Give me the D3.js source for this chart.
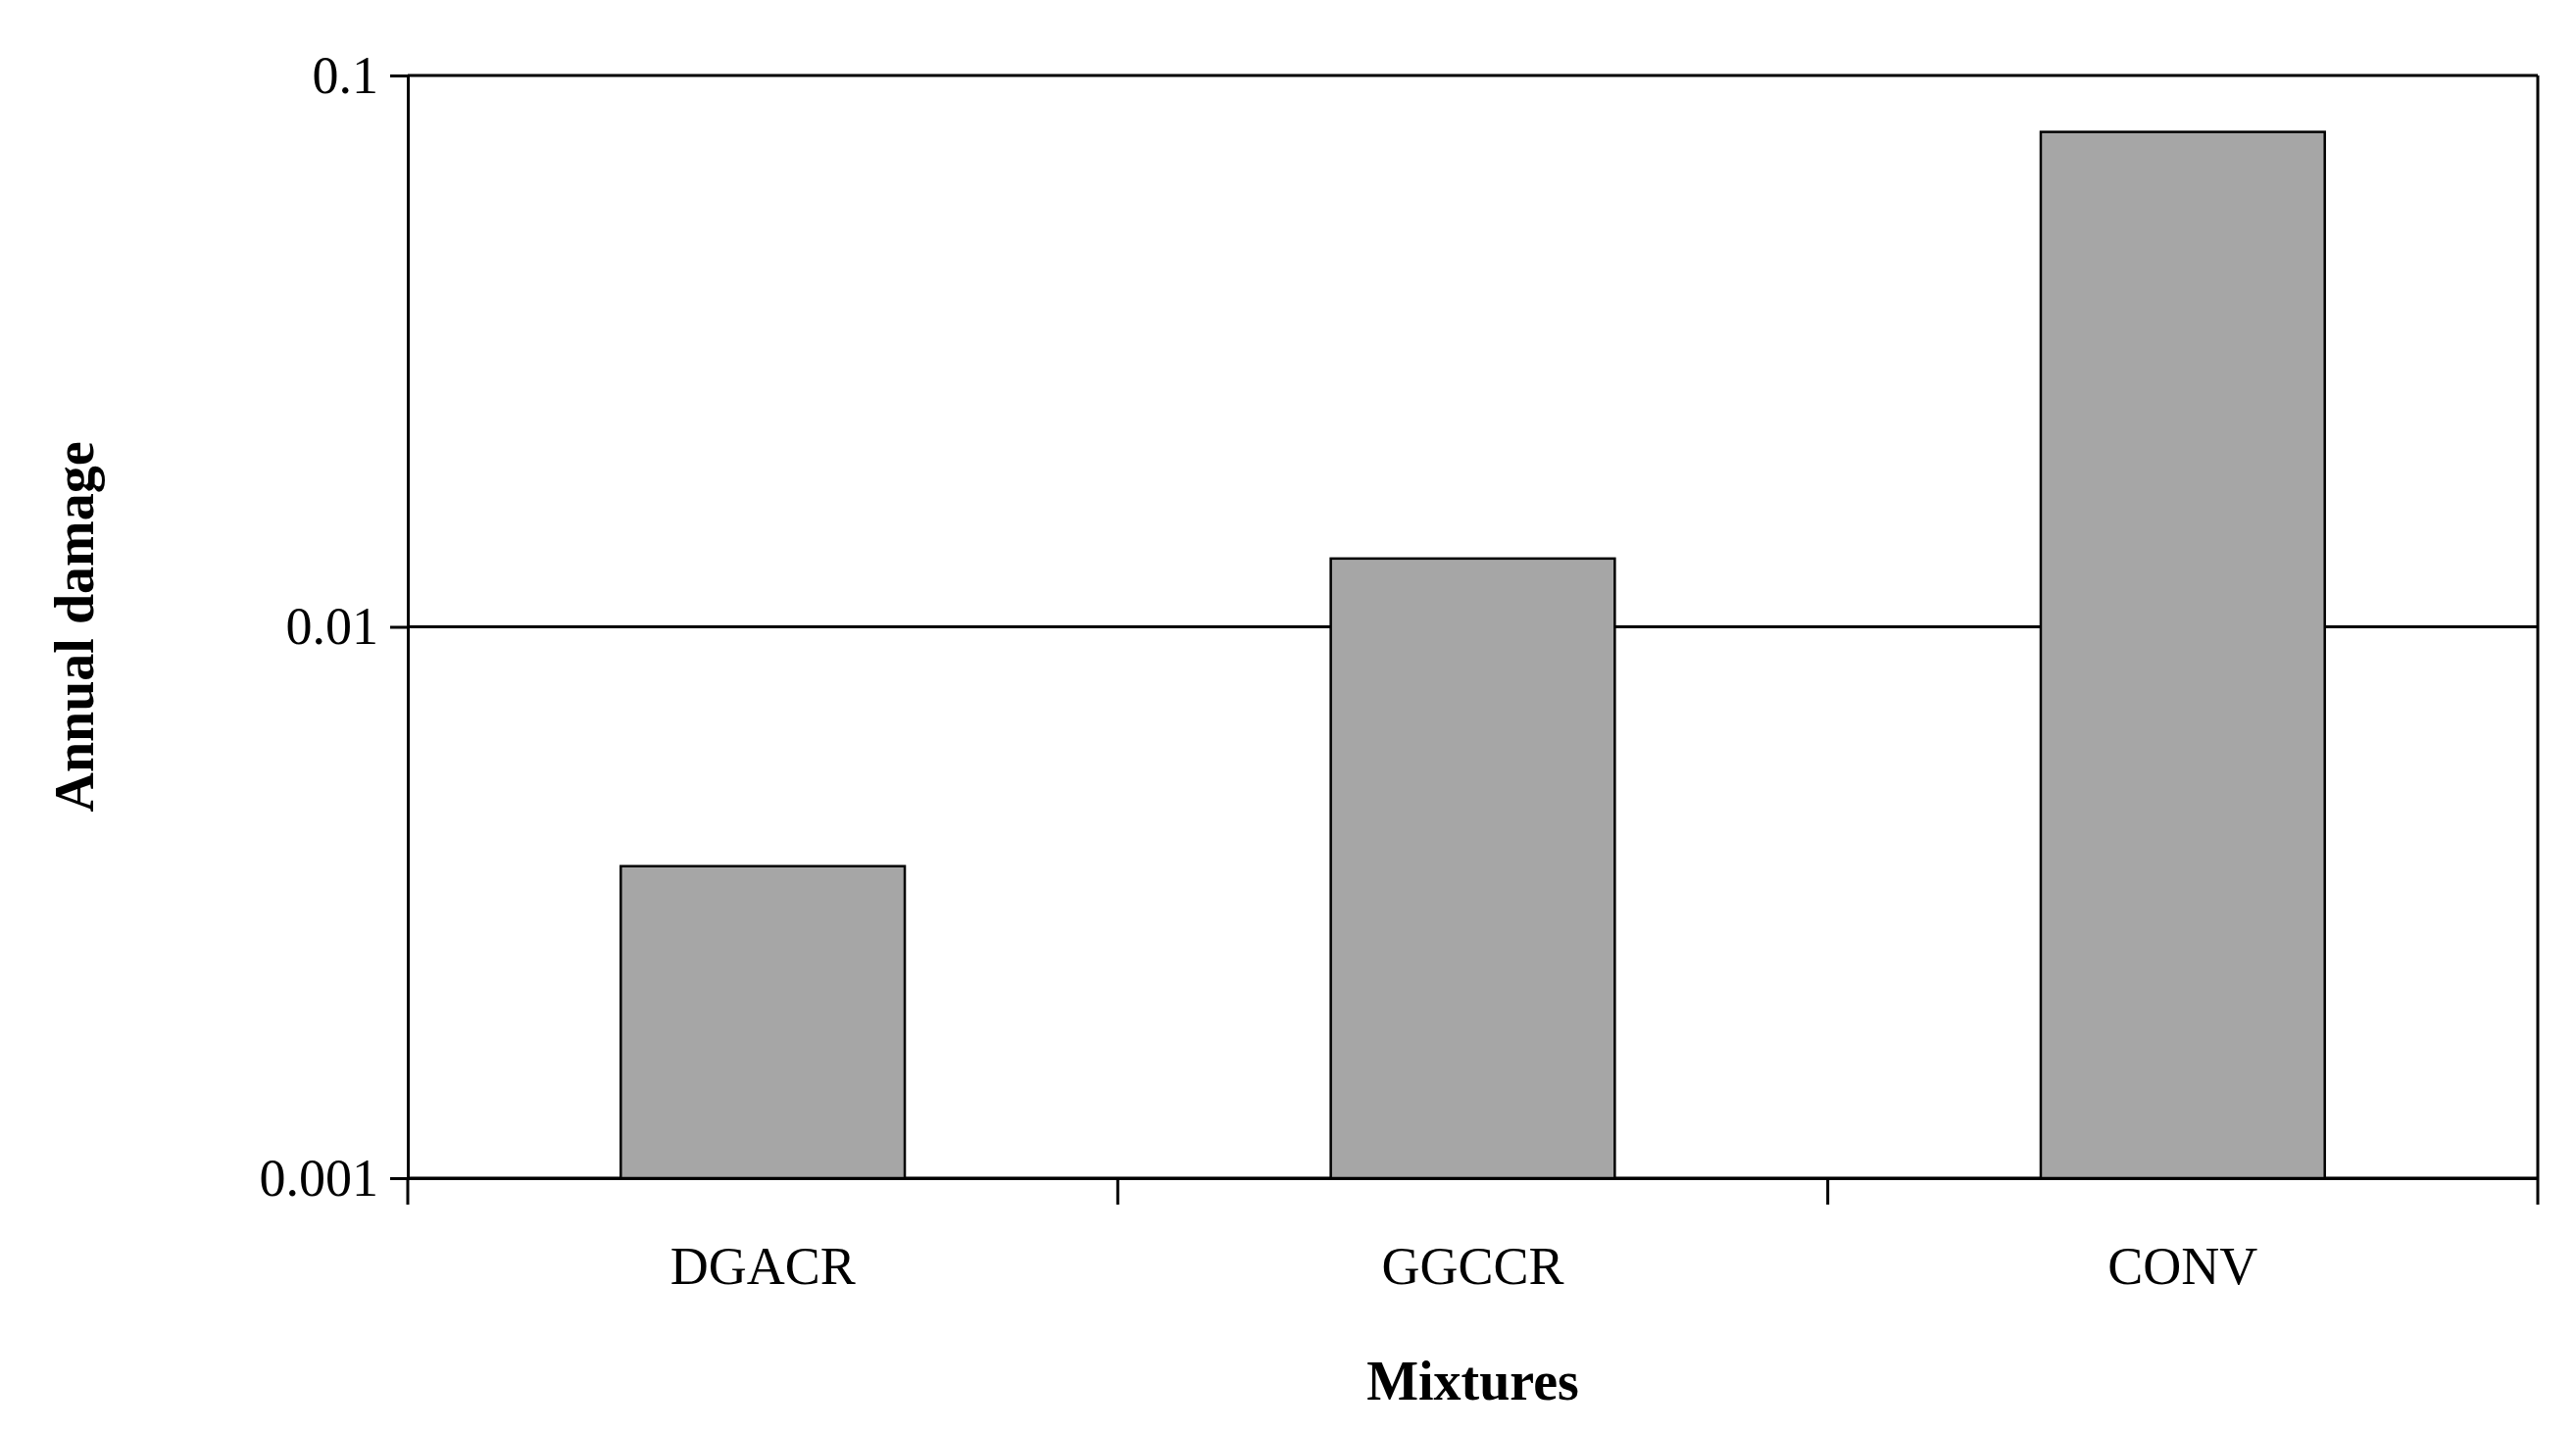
<!DOCTYPE html>
<html><head><meta charset="utf-8">
<script src="https://cdn.jsdelivr.net/npm/d3@7"></script>
<style>body{margin:0;background:#fff}</style></head>
<body><svg id="c" width="2628" height="1461"></svg>
<script>
const categories = ["DGACR","GGCCR","CONV"];
const values = [0.00368,0.0133,0.079];
const yTicks = [0.001,0.01,0.1];
const yTickLabels = ["0.001","0.01","0.1"];

const svg = d3.select("#c");
const L=416,R=2589,T=77,B=1202;
const x = d3.scaleBand().domain(categories).range([L,R]).paddingInner(0.6).paddingOuter(0.3);
const xb = d3.scaleBand().domain(categories).range([L,R]);
const y = d3.scaleLog().domain([0.001,0.1]).range([B,T]);
const font="'Liberation Serif', 'DejaVu Serif', serif";

// gridlines
svg.selectAll(".g").data(yTicks).join("line")
 .attr("x1",L).attr("x2",R).attr("y1",d=>y(d)).attr("y2",d=>y(d))
 .attr("stroke","#000").attr("stroke-width",3);
// right border
svg.append("line").attr("x1",R).attr("x2",R).attr("y1",T).attr("y2",B).attr("stroke","#000").attr("stroke-width",3);

// bars
svg.selectAll(".bar").data(values).join("rect")
 .attr("x",(d,i)=>x(categories[i])).attr("width",x.bandwidth())
 .attr("y",d=>y(d)).attr("height",d=>B-y(d))
 .attr("fill","#a6a6a6").attr("stroke","#000").attr("stroke-width",2.5);

// y axis
const ya = svg.append("g").attr("transform",`translate(${L},0)`)
 .call(d3.axisLeft(y).tickValues(yTicks).tickFormat((d,i)=>yTickLabels[i]).tickSize(18).tickPadding(12));
ya.select(".domain").attr("stroke-width",3);
ya.selectAll("line").attr("stroke-width",3);
ya.selectAll("text").attr("font-family",font).attr("font-size",54).attr("fill","#000");

// x axis
const xa = svg.append("g").attr("transform",`translate(0,${B})`)
 .call(d3.axisBottom(xb).tickSize(0).tickPadding(70));
xa.select(".domain").attr("stroke-width",3);
xa.selectAll("text").attr("font-family",font).attr("font-size",54).attr("fill","#000");
const bounds = categories.map(c=>xb(c)).concat([R]);
svg.selectAll(".xt").data(bounds).join("line")
 .attr("x1",d=>d).attr("x2",d=>d).attr("y1",B).attr("y2",B+27)
 .attr("stroke","#000").attr("stroke-width",3);

// axis titles
svg.append("text").attr("x",(L+R)/2).attr("y",1428).attr("text-anchor","middle")
 .attr("font-family",font).attr("font-weight","bold").attr("font-size",56).text("Mixtures");
svg.append("text").attr("transform",`translate(95,${(T+B)/2}) rotate(-90)`).attr("text-anchor","middle")
 .attr("font-family",font).attr("font-weight","bold").attr("font-size",56).text("Annual damage");
</script></body></html>
